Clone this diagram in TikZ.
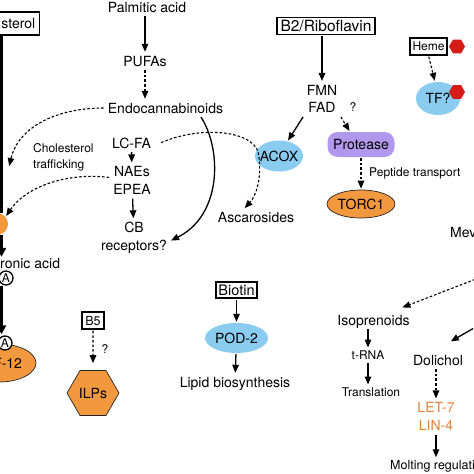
\documentclass[tikz,border=0pt]{standalone}
\usepackage{fontspec}
\setmainfont{TeX Gyre Heros}
\usetikzlibrary{arrows.meta,shapes.geometric}
\definecolor{skyblob}{RGB}{137,204,240}
\definecolor{orangeblob}{RGB}{242,152,62}
\definecolor{lilac}{RGB}{178,152,236}
\definecolor{hemered}{RGB}{214,28,22}
\definecolor{mirorange}{RGB}{230,128,50}
\tikzset{
  lbl/.style={font=\fontsize{14}{17.5}\selectfont,inner sep=3pt,text height=10pt,text depth=0pt},
  twoline/.style={font=\fontsize{14}{17.5}\selectfont,inner sep=3pt,align=center},
  smalllbl/.style={font=\fontsize{12}{16}\selectfont,inner sep=2pt,text height=8.6pt,text depth=0pt},
  smalltwo/.style={font=\fontsize{12}{16}\selectfont,inner sep=2pt,align=left},
  vitbox/.style={lbl,draw,line width=1.4pt,inner sep=2pt},
  bluebub/.style={lbl,ellipse,fill=skyblob,inner sep=0pt},
  orangebub/.style={lbl,ellipse,draw=black!85,line width=0.7pt,fill=orangeblob,inner sep=0pt},
  hexa/.style={regular polygon,regular polygon sides=6,inner sep=0pt},
  dacirc/.style={circle,draw,line width=1.3pt,fill=white,inner sep=0pt,minimum size=14pt,font=\fontsize{12}{12}\selectfont},
  arr/.style={-{Triangle[length=8pt,width=6.5pt]},line width=1.3pt,shorten <=1pt,shorten >=1pt},
  darr/.style={arr,line width=1.1pt,dash pattern=on 2.6pt off 2pt},
  trunk/.style={line width=3pt},
  trunkarr/.style={trunk,-{Triangle[length=9pt,width=9pt]},shorten >=1pt}
}

\begin{document}
\begin{tikzpicture}[x=1pt,y=-1pt]
  \useasboundingbox (0,0) rectangle (474,474);
  \clip (0,0) rectangle (474,474);

  % -- sterol trunk on the left edge --
  \coordinate (trunk) at (1.5,0);
  \node[vitbox,anchor=east,minimum height=23pt,minimum width=48pt,align=right,text width=40pt] (sterol) at (40,23.5) {sterol};
  \node[circle,fill=orangeblob,minimum size=22pt,inner sep=0pt] (daf9) at (-3,224) {};
  \node[lbl,anchor=west,inner sep=0pt] (acid) at (0,263) {ronic acid};
  \node[dacirc] (da1) at (6,278) {A};
  \node[orangebub,minimum width=74pt,minimum height=38pt,text width=46pt,align=right] (daf12) at (-1,363) {F-12};
  \node[dacirc] (da2) at (5,343) {A};
  \draw[trunk] (sterol.south -| trunk) -- (daf9.north -| trunk);
  \draw[trunkarr] (daf9.south -| trunk) -- (acid.north -| trunk);
  \draw[trunkarr] (da1.south -| trunk) -- (da2.north -| trunk);

  % -- palmitic acid / endocannabinoids --
  \node[lbl] (palm) at (147,7) {Palmitic acid};
  \node[lbl] (pufa) at (145,61) {PUFAs};
  \node[lbl] (endo) at (165.5,108) {Endocannabinoids};
  \node[lbl] (lcfa) at (131.5,143) {LC-FA};
  \node[twoline] (naes) at (132,180.5) {NAEs\\EPEA};
  \node[twoline] (cb) at (134,238) {CB\\receptors?};
  \node[smalltwo,anchor=west] (traffic) at (31,157.5) {Cholesterol\\trafficking};
  \draw[arr] (palm.south -| pufa) -- (pufa);
  \draw[darr] (pufa) -- (pufa |- endo.north);
  \draw[arr] (lcfa) -- (naes);
  \draw[arr] (naes) -- (cb);
  \draw[arr] ([xshift=35pt]endo.south) .. controls (222,150) and (222,215) .. ([yshift=-3pt]cb.east);
  \coordinate (cholin) at (9,167);
  \draw[darr] (endo.west) .. controls (55,108) and (18,128) .. (cholin);
  \draw[darr] ([yshift=3pt]naes.west) .. controls (65,172) and (25,188) .. (daf9.40);

  % -- ACOX and ascarosides --
  \node[bluebub,inner xsep=-4pt,minimum width=48pt,minimum height=31pt] (acox) at (279,156) {ACOX};
  \node[lbl] (asc) at (256,217) {Ascarosides};
  \draw[darr] ([xshift=6pt]lcfa.east) .. controls (205,124) and (258,132) .. ([xshift=4pt]acox.west)
    .. controls (262,178) and (256,196) .. ([xshift=-12pt]asc.north);

  % -- riboflavin branch --
  \node[vitbox,font=\fontsize{15.5}{17}\selectfont,text height=11pt,minimum width=98pt,minimum height=17pt] (b2) at (326,26) {B2/Riboflavin};
  \node[twoline] (fmn) at (322,99) {FMN\\FAD};
  \node[smalllbl] (q1) at (353,107) {?};
  \node[lbl,rectangle,rounded corners=10pt,fill=lilac,minimum width=67pt,minimum height=25pt,inner sep=0pt] (prot) at (361,144.5) {Protease};
  \node[orangebub,minimum width=68pt,minimum height=28pt] (torc) at (361,204) {TORC1};
  \node[smalllbl,anchor=west] (pept) at (367,172) {Peptide transport};
  \draw[arr] (b2.south -| fmn) -- (fmn);
  \draw[arr] (fmn.south west) -- (acox.60);
  \draw[darr] (fmn.south east) -- ([xshift=-11pt]prot.north);
  \draw[darr] (prot) -- (torc);

  % -- heme --
  \node[vitbox,font=\fontsize{12}{14}\selectfont,text height=8.6pt,minimum width=37pt,minimum height=17pt] (heme) at (428.5,46.5) {Heme};
  \node[hexa,fill=hemered,minimum size=16pt] (hemehex) at (457,46.5) {};
  \node[bluebub,minimum width=44pt,minimum height=33pt] (tf) at (438,98.5) {TF?};
  \node[hexa,fill=hemered,minimum size=16pt] (tfhex) at (457,92) {};
  \draw[darr] (heme.south) -- ([xshift=-3pt]tf.north);

  % -- biotin and B5 --
  \node[vitbox,font=\fontsize{14.5}{16}\selectfont,minimum width=41pt,minimum height=16pt] (biotin) at (236.5,290) {Biotin};
  \node[bluebub,minimum width=63pt,minimum height=30pt] (pod) at (236.5,338) {POD-2};
  \node[lbl] (lipid) at (235,382) {Lipid biosynthesis};
  \draw[arr] (biotin) -- (pod);
  \draw[arr] (pod) -- (lipid);
  \node[vitbox,font=\fontsize{12.5}{14}\selectfont,text height=9pt,minimum width=22pt,minimum height=17pt] (b5) at (93,320.5) {B5};
  \node[hexa,lbl,inner sep=0pt,draw=black!85,line width=0.7pt,fill=orangeblob,minimum size=52pt] (ilps) at (93,393) {ILPs};
  \node[smalllbl] (q2) at (105,349) {?};
  \draw[darr,shorten >=7pt] (b5) -- (ilps);

  % -- mevalonate side --
  \node[lbl,anchor=west] (mev) at (447,232) {Mev};
  \coordinate (mevout) at (476,279);
  \coordinate (dolout) at (474,328);
  \node[lbl] (isop) at (373.5,320) {Isoprenoids};
  \node[smalllbl] (trna) at (368,355) {t-RNA};
  \node[smalllbl] (transl) at (371,392) {Translation};
  \node[lbl] (dol) at (438,360) {Dolichol};
  \node[twoline,text=mirorange] (let) at (436,416.5) {LET-7\\LIN-4};
  \node[lbl,font=\fontsize{12.5}{15}\selectfont,text height=9pt,anchor=west,inner sep=2pt] (molt) at (388,465) {Molting regulati};
  \draw[darr] (mevout) -- ([shift={(28pt,4pt)}]isop.north);
  \draw[arr] (isop.south -| trna) -- (trna);
  \draw[arr] (trna) -- (transl.north -| trna);
  \draw[arr] (dolout) -- ([shift={(12pt,10pt)}]dol.north);
  \draw[darr] (dol.south -| let) -- (let);
  \draw[arr] (let) -- (molt.north -| let);
\end{tikzpicture}
\end{document}
